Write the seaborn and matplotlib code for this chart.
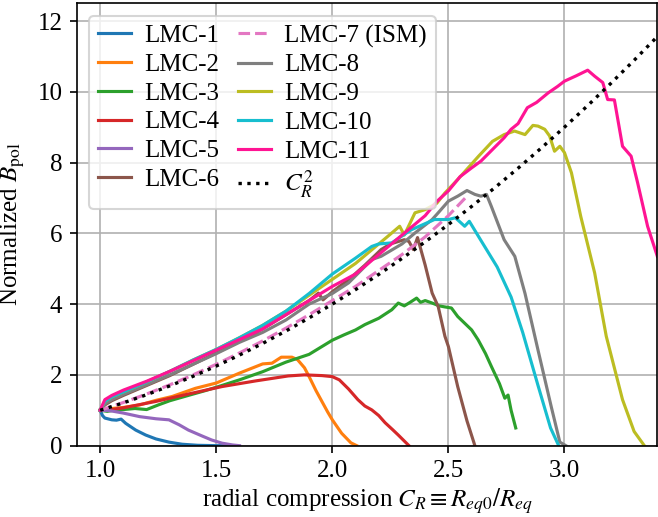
import numpy as np
import pandas as pd
import matplotlib
matplotlib.use("Agg")
import matplotlib.pyplot as plt
import seaborn as sns

# ---------------- data ----------------
lmc1_x = [1.0, 1.01, 1.02, 1.05, 1.07, 1.09, 1.11, 1.153, 1.196, 1.24, 1.296, 1.353, 1.42, 1.5, 1.57]
lmc1_y = [1.0, 0.85, 0.78, 0.73, 0.72, 0.75, 0.63, 0.44, 0.30, 0.19, 0.10, 0.04, 0.01, 0.0, 0.0]

lmc2_x = [1.0, 1.05, 1.1, 1.17, 1.24, 1.31, 1.41, 1.5, 1.6, 1.7, 1.74, 1.78, 1.826, 1.85, 1.88, 1.9, 1.93, 1.955, 1.98, 2.0, 2.04, 2.08, 2.105]
lmc2_y = [1.0, 1.05, 1.08, 1.15, 1.28, 1.39, 1.62, 1.77, 2.05, 2.31, 2.33, 2.5, 2.5, 2.43, 2.2, 1.95, 1.55, 1.25, 0.95, 0.73, 0.35, 0.08, 0.0]

lmc3_x = [1.0, 1.03, 1.06, 1.1, 1.15, 1.2, 1.25, 1.3, 1.38, 1.45, 1.5, 1.6, 1.7, 1.8, 1.9, 1.955, 2.0, 2.05, 2.1, 2.14, 2.2, 2.256, 2.284, 2.31, 2.335, 2.363, 2.38, 2.40, 2.43, 2.46, 2.485, 2.513, 2.54, 2.57, 2.6, 2.628, 2.66, 2.685, 2.72, 2.743, 2.757, 2.77, 2.79]
lmc3_y = [1.0, 0.97, 1.0, 1.02, 1.05, 1.02, 1.15, 1.27, 1.42, 1.55, 1.65, 1.86, 2.09, 2.36, 2.58, 2.8, 2.98, 3.13, 3.27, 3.42, 3.6, 3.84, 4.03, 3.95, 4.05, 4.17, 4.05, 4.1, 4.03, 3.95, 3.92, 3.89, 3.65, 3.46, 3.27, 2.99, 2.6, 2.24, 1.75, 1.34, 1.43, 1.0, 0.5]

lmc4_x = [1.0, 1.05, 1.1, 1.24, 1.38, 1.525, 1.67, 1.81, 1.88, 1.955, 2.0, 2.03, 2.07, 2.11, 2.14, 2.17, 2.2, 2.227, 2.26, 2.284, 2.33]
lmc4_y = [1.0, 1.02, 1.07, 1.25, 1.46, 1.67, 1.83, 1.97, 2.0, 1.98, 1.95, 1.86, 1.6, 1.3, 1.12, 1.01, 0.85, 0.65, 0.45, 0.3, 0.0]

lmc5_x = [1.0, 1.04, 1.1, 1.17, 1.24, 1.296, 1.34, 1.38, 1.44, 1.48, 1.525, 1.57, 1.6]
lmc5_y = [1.0, 0.99, 0.92, 0.82, 0.76, 0.73, 0.59, 0.44, 0.27, 0.16, 0.07, 0.02, 0.0]

lmc6_x = [1.0, 1.02, 1.05, 1.1, 1.2, 1.3, 1.4, 1.5, 1.6, 1.7, 1.8, 1.9, 1.94, 1.96, 2.0, 2.07, 2.14, 2.21, 2.25, 2.31, 2.33, 2.349, 2.367, 2.4, 2.43, 2.456, 2.485, 2.5, 2.54, 2.58, 2.614]
lmc6_y = [1.0, 1.15, 1.27, 1.42, 1.7, 1.98, 2.3, 2.62, 2.95, 3.3, 3.7, 4.1, 4.31, 4.12, 4.35, 4.69, 5.1, 5.54, 5.7, 5.82, 5.77, 5.54, 5.88, 5.1, 4.31, 3.93, 3.09, 2.8, 1.67, 0.7, 0.0]

lmc7_x = [1.0, 1.1, 1.2, 1.3, 1.4, 1.5, 1.6, 1.7, 1.8, 1.9, 2.0, 2.1, 2.2, 2.3, 2.4, 2.5, 2.58]
lmc7_y = [1.0, 1.22, 1.46, 1.72, 2.0, 2.3, 2.62, 2.96, 3.32, 3.7, 4.1, 4.5, 4.95, 5.4, 5.9, 6.5, 7.05]

lmc8_x = [1.0, 1.02, 1.05, 1.1, 1.2, 1.3, 1.4, 1.5, 1.6, 1.7, 1.8, 1.9, 2.0, 2.07, 2.17, 2.21, 2.3, 2.356, 2.43, 2.456, 2.5, 2.54, 2.58, 2.614, 2.64, 2.664, 2.685, 2.74, 2.786, 2.83, 2.886, 2.943, 2.98, 3.006]
lmc8_y = [1.0, 1.18, 1.3, 1.45, 1.72, 2.0, 2.3, 2.6, 2.92, 3.2, 3.55, 4.0, 4.3, 4.6, 5.26, 5.35, 5.7, 6.01, 6.39, 6.58, 6.91, 7.05, 7.21, 7.1, 7.05, 7.1, 6.76, 5.82, 5.35, 4.3, 2.7, 1.1, 0.1, 0.0]

lmc9_x = [1.0, 1.02, 1.05, 1.1, 1.2, 1.3, 1.4, 1.5, 1.6, 1.7, 1.8, 1.9, 2.0, 2.1, 2.2, 2.256, 2.29, 2.31, 2.356, 2.4, 2.45, 2.485, 2.54, 2.63, 2.69, 2.74, 2.785, 2.83, 2.864, 2.886, 2.915, 2.936, 2.957, 2.98, 3.0, 3.03, 3.07, 3.13, 3.18, 3.25, 3.3, 3.344]
lmc9_y = [1.0, 1.25, 1.38, 1.52, 1.8, 2.1, 2.42, 2.72, 3.05, 3.4, 3.8, 4.25, 4.7, 5.15, 5.7, 6.01, 6.2, 5.95, 6.58, 6.67, 6.85, 7.14, 7.52, 8.18, 8.6, 8.79, 8.89, 8.79, 9.05, 9.03, 8.94, 8.75, 8.32, 8.46, 8.28, 7.71, 6.48, 4.88, 3.09, 1.3, 0.4, 0.0]

lmc10_x = [1.0, 1.02, 1.05, 1.1, 1.2, 1.3, 1.4, 1.5, 1.6, 1.7, 1.8, 1.9, 2.0, 2.1, 2.17, 2.2, 2.256, 2.34, 2.44, 2.5, 2.53, 2.57, 2.59, 2.64, 2.71, 2.77, 2.82, 2.886, 2.94, 2.975]
lmc10_y = [1.0, 1.25, 1.38, 1.52, 1.8, 2.1, 2.42, 2.72, 3.05, 3.4, 3.8, 4.3, 4.85, 5.3, 5.63, 5.7, 5.73, 6.1, 6.39, 6.39, 6.44, 6.2, 6.34, 5.8, 5.05, 4.2, 3.2, 1.7, 0.5, 0.0]

lmc11_x = [1.0, 1.02, 1.05, 1.1, 1.2, 1.3, 1.4, 1.5, 1.6, 1.7, 1.8, 1.9, 2.0, 2.1, 2.2, 2.3, 2.4, 2.45, 2.5, 2.55, 2.6, 2.64, 2.69, 2.74, 2.77, 2.8, 2.84, 2.88, 2.93, 2.97, 3.0, 3.05, 3.1, 3.13, 3.165, 3.186, 3.215, 3.25, 3.287, 3.315, 3.358, 3.4]
lmc11_y = [1.0, 1.3, 1.42, 1.57, 1.82, 2.1, 2.4, 2.7, 3.0, 3.3, 3.7, 4.1, 4.5, 4.85, 5.4, 5.95, 6.5, 6.9, 7.2, 7.6, 7.85, 8.04, 8.37, 8.7, 8.94, 9.1, 9.55, 9.7, 9.97, 10.15, 10.3, 10.45, 10.61, 10.44, 10.26, 9.78, 9.77, 8.46, 8.18, 7.43, 6.2, 5.35]

# C_R^2 reference curve (values of C_R squared)
cr_x = [1.0, 1.1, 1.2, 1.3, 1.4, 1.5, 1.6, 1.7, 1.8, 1.9, 2.0, 2.1, 2.2, 2.3, 2.4, 2.5, 2.6, 2.7, 2.8, 2.9, 3.0, 3.1, 3.2, 3.3, 3.4]
cr_y = [1.0, 1.21, 1.44, 1.69, 1.96, 2.25, 2.56, 2.89, 3.24, 3.61, 4.0, 4.41, 4.84, 5.29, 5.76, 6.25, 6.76, 7.29, 7.84, 8.41, 9.0, 9.61, 10.24, 10.89, 11.56]

labels = ["LMC-1", "LMC-2", "LMC-3", "LMC-4", "LMC-5", "LMC-6", "LMC-7 (ISM)",
          "LMC-8", "LMC-9", "LMC-10", "LMC-11"]
colors = ["#1f77b4", "#ff7f0e", "#2ca02c", "#d62728", "#9467bd", "#8c564b",
          "#e377c2", "#7f7f7f", "#bcbd22", "#17becf", "#ff1493"]
xs = [lmc1_x, lmc2_x, lmc3_x, lmc4_x, lmc5_x, lmc6_x, lmc7_x, lmc8_x, lmc9_x, lmc10_x, lmc11_x]
ys = [lmc1_y, lmc2_y, lmc3_y, lmc4_y, lmc5_y, lmc6_y, lmc7_y, lmc8_y, lmc9_y, lmc10_y, lmc11_y]

x_ticks = [1.0, 1.5, 2.0, 2.5, 3.0]
y_ticks = [0, 2, 4, 6, 8, 10, 12]

# ---------------- style ----------------
plt.rcParams.update({
    "font.family": ["Liberation Serif", "DejaVu Serif"],
    "mathtext.fontset": "stix",
    "font.size": 12,
    "axes.linewidth": 0.8,
    "xtick.direction": "out",
    "ytick.direction": "out",
})

fig = plt.figure(figsize=(658 / 150, 517 / 150), dpi=150)
ax = fig.add_axes([0.117, 0.138, 0.882, 0.8556])

for lab, col, xv, yv in zip(labels, colors, xs, ys):
    df = pd.DataFrame({"x": xv, "y": yv})
    ls = "--" if "ISM" in lab else "-"
    sns.lineplot(data=df, x="x", y="y", ax=ax, color=col, linestyle=ls,
                 linewidth=1.5, sort=False, estimator=None, label=lab)

df_cr = pd.DataFrame({"x": cr_x, "y": cr_y})
sns.lineplot(data=df_cr, x="x", y="y", ax=ax, color="black", linestyle=":",
             linewidth=1.6, sort=False, estimator=None, label=r"$C_R^2$")

ax.set_xlim(0.9, 3.4)
ax.set_ylim(0, 12.5)
ax.set_xticks(x_ticks)
ax.set_yticks(y_ticks)
ax.set_xticklabels([f"{t:.1f}" for t in x_ticks])
ax.set_yticklabels([str(t) for t in y_ticks])
ax.grid(True, color="#b0b0b0", linewidth=0.8)
ax.set_axisbelow(True)
ax.set_xlabel(r"radial compression $C_R \equiv R_{eq0}/R_{eq}$", labelpad=2.0)
ax.set_ylabel(r"Normalized $B_{\rm pol}$", labelpad=5)

ax.legend(loc="upper left", ncol=2, handlelength=1.3, handletextpad=0.55,
          columnspacing=0.75, labelspacing=0.25, borderpad=0.35)

fig.savefig("out.png", dpi=150)
